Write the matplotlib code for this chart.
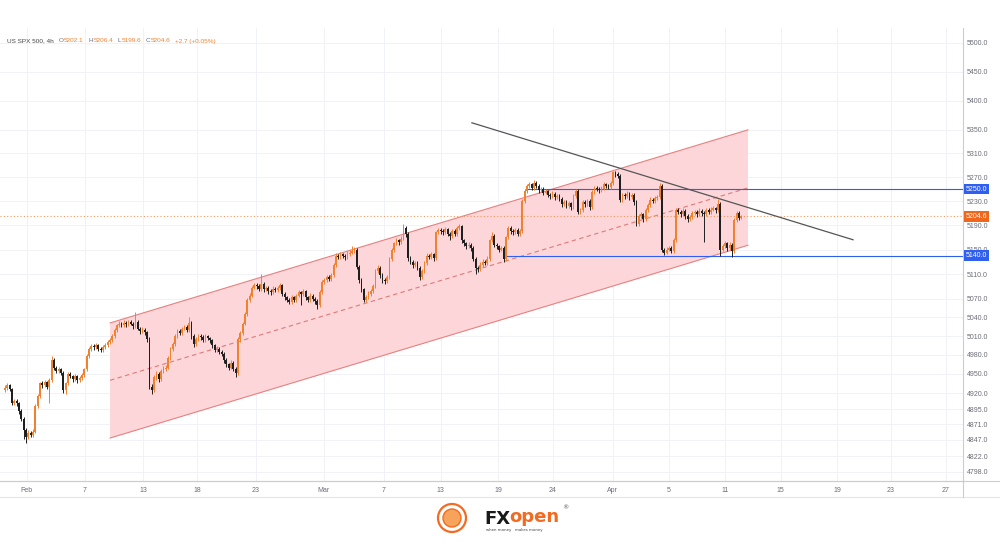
import numpy as np
import matplotlib
matplotlib.use("Agg")
import matplotlib.pyplot as plt
from matplotlib.patches import Polygon, Circle
from matplotlib.ticker import FixedLocator, NullLocator, FuncFormatter

# 4h bars, one row per bar: open high low close
ohlc_rows = """
4925 4932 4921 4928
4928 4935 4925 4932
4932 4934 4923 4926
4926 4928 4901 4905
4905 4911 4901 4908
4908 4910 4899 4904
4904 4906 4888 4892
4892 4895 4876 4880
4880 4882 4848 4862
4862 4866 4843 4852
4852 4862 4849 4858
4858 4861 4851 4855
4855 4864 4852 4860
4860 4903 4857 4900
4900 4918 4896 4915
4915 4938 4912 4935
4935 4939 4928 4932
4932 4941 4929 4937
4937 4939 4926 4930
4930 4944 4905 4940
4940 4978 4937 4972
4972 4975 4956 4960
4960 4963 4951 4955
4955 4961 4952 4958
4958 4960 4948 4952
4952 4954 4920 4925
4925 4938 4918 4935
4935 4953 4932 4950
4950 4953 4943 4946
4946 4948 4938 4942
4942 4950 4939 4947
4947 4949 4936 4940
4940 4947 4937 4944
4944 4951 4941 4948
4948 4960 4945 4957
4957 4981 4954 4978
4978 4993 4975 4990
4990 4998 4987 4994
4994 4997 4988 4992
4992 4999 4989 4996
4996 4998 4986 4990
4990 4993 4984 4988
4988 4995 4985 4992
4992 4999 4989 4996
4996 5003 4993 5000
5000 5007 4997 5004
5004 5013 5001 5010
5010 5023 5007 5020
5020 5030 5017 5027
5027 5034 5024 5030
5030 5033 5024 5028
5028 5035 5025 5031
5031 5034 5025 5029
5029 5036 5026 5032
5032 5035 5027 5030
5030 5032 5022 5026
5026 5048 5023 5033
5033 5036 5019 5022
5022 5025 5014 5018
5018 5024 5015 5020
5020 5023 5012 5016
5016 5018 5001 5005
5005 5008 4926 4930
4930 4934 4918 4925
4925 4948 4922 4945
4945 4954 4941 4950
4950 4953 4938 4942
4942 4958 4939 4955
4955 4962 4952 4958
4958 4964 4954 4960
4960 4978 4957 4975
4975 4993 4972 4990
4990 5000 4987 4997
4997 5013 4994 5010
5010 5021 5007 5018
5018 5021 5011 5015
5015 5025 5012 5022
5022 5028 5019 5025
5025 5028 5016 5020
5020 5040 5017 5031
5031 5034 5006 5010
5010 5013 4993 4997
4997 5008 4994 5005
5005 5013 5002 5010
5010 5013 5004 5008
5008 5011 5000 5004
5004 5013 5001 5010
5010 5012 5003 5007
5007 5009 4999 5003
5003 5005 4991 4995
4995 4997 4984 4988
4988 4994 4985 4990
4990 4992 4981 4985
4985 4988 4978 4982
4982 4984 4968 4972
4972 4975 4961 4965
4965 4968 4956 4960
4960 4972 4957 4968
4968 4970 4954 4958
4958 4961 4945 4952
4952 5008 4949 5005
5005 5018 5001 5015
5015 5033 5012 5030
5030 5048 5027 5045
5045 5071 5042 5068
5068 5079 5065 5075
5075 5091 5072 5088
5088 5096 5085 5092
5092 5095 5086 5090
5090 5093 5082 5086
5086 5110 5083 5094
5094 5097 5081 5085
5085 5091 5082 5088
5088 5090 5078 5082
5082 5085 5076 5080
5080 5090 5077 5086
5086 5089 5080 5084
5084 5090 5081 5087
5087 5096 5084 5092
5092 5094 5074 5078
5078 5081 5068 5072
5072 5075 5064 5068
5068 5071 5061 5065
5065 5076 5062 5072
5072 5074 5064 5068
5068 5078 5065 5075
5075 5084 5072 5080
5080 5083 5060 5078
5078 5086 5075 5082
5082 5084 5068 5072
5072 5075 5064 5068
5068 5079 5065 5075
5075 5078 5066 5070
5070 5073 5062 5066
5066 5069 5053 5060
5060 5084 5057 5080
5080 5100 5077 5097
5097 5104 5094 5100
5100 5109 5097 5105
5105 5108 5098 5102
5102 5112 5099 5108
5108 5128 5105 5125
5125 5144 5122 5140
5140 5143 5134 5138
5138 5146 5135 5142
5142 5145 5136 5140
5140 5143 5133 5137
5137 5147 5134 5143
5143 5149 5140 5145
5145 5155 5142 5148
5148 5154 5144 5150
5150 5152 5118 5122
5122 5125 5096 5100
5100 5103 5081 5085
5085 5088 5064 5068
5068 5076 5065 5072
5072 5082 5069 5078
5078 5086 5075 5082
5082 5094 5079 5090
5090 5118 5087 5115
5115 5125 5112 5120
5120 5123 5104 5108
5108 5111 5096 5100
5100 5103 5094 5098
5098 5109 5095 5105
5105 5138 5102 5135
5135 5152 5132 5149
5149 5163 5146 5160
5160 5169 5157 5165
5165 5168 5158 5162
5162 5172 5159 5168
5168 5192 5165 5185
5185 5188 5171 5175
5175 5178 5132 5136
5136 5139 5126 5130
5130 5133 5120 5124
5124 5132 5121 5128
5128 5131 5116 5120
5120 5123 5100 5105
5105 5118 5102 5115
5115 5131 5112 5128
5128 5144 5125 5140
5140 5143 5134 5138
5138 5146 5135 5142
5142 5145 5132 5136
5136 5181 5133 5178
5178 5186 5175 5182
5182 5185 5176 5180
5180 5183 5174 5178
5178 5187 5175 5183
5183 5186 5172 5176
5176 5179 5165 5172
5172 5184 5169 5180
5180 5183 5172 5176
5176 5189 5173 5185
5185 5192 5182 5188
5188 5190 5161 5165
5165 5168 5156 5160
5160 5163 5151 5155
5155 5162 5152 5158
5158 5161 5148 5152
5152 5155 5131 5135
5135 5138 5110 5120
5120 5123 5114 5118
5118 5129 5115 5125
5125 5134 5122 5130
5130 5133 5124 5128
5128 5139 5125 5135
5135 5168 5132 5165
5165 5178 5162 5172
5172 5175 5154 5158
5158 5161 5151 5155
5155 5158 5146 5150
5150 5156 5147 5152
5152 5155 5130 5135
5135 5173 5132 5170
5170 5189 5167 5185
5185 5188 5176 5180
5180 5183 5174 5178
5178 5186 5175 5182
5182 5185 5172 5176
5176 5184 5173 5180
5180 5233 5177 5230
5230 5250 5227 5247
5247 5259 5244 5255
5255 5262 5252 5258
5258 5261 5248 5252
5252 5265 5249 5260
5260 5263 5252 5256
5256 5259 5244 5248
5248 5254 5245 5250
5250 5253 5240 5244
5244 5250 5241 5246
5246 5249 5236 5240
5240 5243 5234 5238
5238 5246 5235 5242
5242 5245 5232 5236
5236 5242 5233 5238
5238 5241 5230 5234
5234 5237 5221 5225
5225 5232 5222 5228
5228 5231 5218 5222
5222 5230 5219 5226
5226 5229 5216 5220
5220 5242 5217 5238
5238 5251 5235 5247
5247 5250 5208 5212
5212 5219 5209 5215
5215 5232 5212 5228
5228 5231 5221 5225
5225 5234 5222 5230
5230 5233 5215 5220
5220 5249 5217 5245
5245 5256 5242 5252
5252 5255 5246 5250
5250 5253 5244 5248
5248 5255 5245 5251
5251 5262 5248 5258
5258 5261 5252 5256
5256 5259 5250 5254
5254 5264 5251 5260
5260 5281 5257 5278
5278 5280 5271 5275
5275 5278 5268 5272
5272 5275 5228 5232
5232 5244 5229 5240
5240 5243 5234 5238
5238 5246 5235 5242
5242 5245 5232 5236
5236 5244 5233 5240
5240 5243 5224 5228
5228 5231 5188 5192
5192 5209 5189 5205
5205 5212 5202 5208
5208 5211 5196 5200
5200 5219 5197 5215
5215 5227 5212 5223
5223 5236 5220 5232
5232 5235 5226 5230
5230 5239 5227 5235
5235 5240 5232 5236
5236 5260 5233 5255
5255 5258 5146 5150
5150 5153 5141 5145
5145 5154 5142 5150
5150 5156 5147 5152
5152 5155 5144 5148
5148 5169 5145 5165
5165 5219 5162 5215
5215 5218 5208 5212
5212 5215 5204 5208
5208 5218 5205 5214
5214 5217 5201 5205
5205 5208 5196 5200
5200 5207 5197 5203
5203 5214 5200 5210
5210 5216 5207 5212
5212 5215 5204 5208
5208 5218 5205 5214
5214 5217 5206 5210
5210 5213 5163 5208
5208 5219 5205 5215
5215 5218 5208 5212
5212 5220 5209 5216
5216 5222 5213 5218
5218 5221 5211 5215
5215 5233 5212 5225
5225 5228 5140 5150
5150 5159 5147 5155
5155 5164 5152 5160
5160 5163 5148 5152
5152 5162 5149 5158
5158 5161 5138 5148
5148 5202 5145 5198
5198 5214 5195 5210
5210 5213 5199 5202.1
5202.1 5206.4 5199.6 5204.6
"""
bars = np.array([[float(v) for v in ln.split()] for ln in ohlc_rows.strip().splitlines()])
opens, highs, lows, closes = bars.T

# date ticks (bar index) and labels
date_pos = [9.4, 34.3, 59.2, 82.4, 107.7, 136.9, 162.7, 187.1, 211.6, 235.2,
            260.9, 285.0, 309.0, 333.0, 357.1, 380.3, 403.9]
date_labels = ["Feb", "7", "13", "18", "23", "Mar", "7", "13", "19", "24",
               "Apr", "5", "11", "15", "19", "23", "27"]
price_ticks = [5500, 5450, 5400, 5350, 5310, 5270, 5230, 5190, 5150, 5110, 5070,
               5040, 5010, 4980, 4950, 4920, 4895, 4871, 4847, 4822, 4798]

# drawings
channel_x = [45.1, 318.9]
channel_upper = [5031, 5350]
channel_lower = [4850, 5157]
channel_mid = [4940, 5252]
trend_x = [200.4, 364.0]
trend_y = [5362, 5166]
resistance, resistance_start = 5250.0, 223
support, support_start = 5140.0, 214
last_price = 5204.6

header = [("US SPX 500, 4h", "#444444"), ("O", "#6b6e78"), ("5202.1", "#f0812f"),
          ("H", "#6b6e78"), ("5206.4", "#f0812f"), ("L", "#6b6e78"),
          ("5199.6", "#f0812f"), ("C", "#6b6e78"), ("5204.6", "#f0812f"),
          ("+2.7 (+0.05%)", "#f0812f")]

UP = "#f0812f"
DOWN = "#1f1f1f"
BLUE = "#2f5ff0"
ORANGE_BOX = "#f0661a"
GRID = "#f0f2f7"
TXT = "#6b6e78"
FONT = "Liberation Sans"

fig = plt.figure(figsize=(10, 5.49), dpi=100)
ax = fig.add_axes([0, 68 / 549, 0.963, 453 / 549])
ax.set_yscale("log")
ax.set_xlim(-2.15, 411.2)
ax.set_ylim(4784.1, 5526.3)

# grid
for p in date_pos:
    ax.axvline(p, color=GRID, lw=0.7, zorder=0)
for p in price_ticks:
    ax.axhline(p, color=GRID, lw=0.7, zorder=0)

# channel
poly = Polygon([[channel_x[0], channel_lower[0]], [channel_x[0], channel_upper[0]],
                [channel_x[1], channel_upper[1]], [channel_x[1], channel_lower[1]]],
               closed=True, facecolor="#fcd6d9", edgecolor="none", zorder=1)
ax.add_patch(poly)
ax.plot(channel_x, channel_upper, color="#e88080", lw=0.8, zorder=2)
ax.plot(channel_x, channel_lower, color="#e88080", lw=0.8, zorder=2)
ax.plot(channel_x, channel_mid, color="#e07a7a", lw=0.8, ls=(0, (4, 3)), zorder=2)

# horizontal levels
ax.axhline(last_price, color="#f29a5e", lw=0.8, ls=(0, (1, 2)), zorder=2)
ax.hlines(resistance, resistance_start, 411.2, color=BLUE, lw=0.8, zorder=2)
ax.hlines(support, support_start, 411.2, color=BLUE, lw=0.8, zorder=2)

# candles
x = np.arange(len(closes))
cols = np.where(closes >= opens, UP, DOWN)
ax.vlines(x, lows, highs, colors=cols, lw=0.7, zorder=3)
body_low = np.minimum(opens, closes)
body_h = np.maximum(np.abs(closes - opens), 1.0)
ax.bar(x, body_h, bottom=body_low, width=0.74, color=cols, linewidth=0, zorder=4)

# trend line
ax.plot(trend_x, trend_y, color="#555555", lw=0.9, zorder=5)

# axes styling
ax.yaxis.tick_right()
ax.yaxis.set_major_locator(FixedLocator(price_ticks))
ax.yaxis.set_minor_locator(NullLocator())
ax.yaxis.set_major_formatter(FuncFormatter(lambda v, _: f"{v:.1f}"))
ax.set_xticks(date_pos)
ax.set_xticklabels(date_labels)
ax.tick_params(axis="both", length=0, labelsize=5, labelcolor=TXT)
ax.tick_params(axis="y", pad=3)
ax.tick_params(axis="x", pad=4)
for lab in ax.get_xticklabels() + ax.get_yticklabels():
    lab.set_fontfamily(FONT)
for s in ["top", "left"]:
    ax.spines[s].set_visible(False)
for s in ["right", "bottom"]:
    ax.spines[s].set_color("#c9ccd3")
    ax.spines[s].set_linewidth(0.8)

# price labels on the scale
for val, fc in [(resistance, BLUE), (support, BLUE), (last_price, ORANGE_BOX)]:
    ax.annotate(f"{val:.1f}", xy=(1, val), xycoords=("axes fraction", "data"),
                xytext=(2, 0), textcoords="offset points", ha="left", va="center",
                fontsize=5, color="white", family=FONT, annotation_clip=False,
                bbox=dict(boxstyle="square,pad=0.25", fc=fc, ec="none"))

# overlay in pixel coordinates for header, frame and logo
ov = fig.add_axes([0, 0, 1, 1], zorder=10)
ov.set_xlim(0, 1000)
ov.set_ylim(549, 0)
ov.axis("off")
ov.patch.set_alpha(0)
ov.plot([0, 1000], [481, 481], color="#c9ccd3", lw=0.8)
ov.plot([0, 1000], [497, 497], color="#e3e5ea", lw=0.8)
ov.plot([963, 963], [481, 497], color="#c9ccd3", lw=0.8)

# header, each piece placed right after the previous one
prev = ov.text(7, 41, header[0][0], fontsize=4.6, color=header[0][1], family=FONT,
               va="center", ha="left")
for i, (s, c) in enumerate(header[1:]):
    gap = 3.2 if s in ("O", "H", "L", "C", "+2.7 (+0.05%)") else 0.4
    if s == "O":
        gap = 3.6
    prev = ov.annotate(s, xy=(1, 0.5), xycoords=prev, xytext=(gap, 0),
                       textcoords="offset points", fontsize=4.6, color=c,
                       family=FONT, va="center", ha="left")

# logo
ov.add_patch(Circle((452, 518), 14, fc="white", ec="#f26b21", lw=1.6))
ov.add_patch(Circle((452, 518), 9, fc="#f7a35c", ec="#f26b21", lw=1.0))
ov.text(484, 519, "FX", fontsize=13, fontweight="bold", color="#1a1a1a",
        va="center", ha="left", family="DejaVu Sans")
ov.text(509, 517, "open", fontsize=13, fontweight="bold", color="#f26b21",
        va="center", ha="left", family="DejaVu Sans")
ov.text(562, 508, "®", fontsize=4.5, color="#555555", va="center", ha="left")
ov.text(486, 530, "when money   makes money", fontsize=2.8, color="#444444",
        va="center", ha="left")

fig.savefig("out.png", dpi=100)
